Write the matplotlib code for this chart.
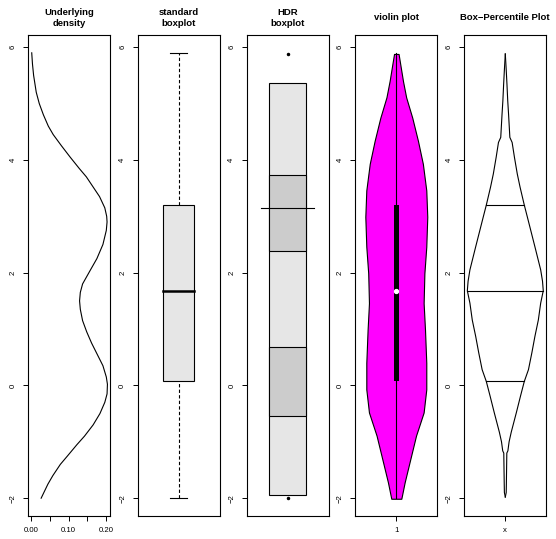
import numpy as np
import matplotlib.pyplot as plt
from matplotlib.patches import Rectangle

plt.rcParams['font.family'] = ['Liberation Sans', 'DejaVu Sans']

# ---- values ----
# underlying density (x = density, y = value)
dens_y = [5.90, 5.70, 5.50, 5.20, 5.00, 4.80, 4.60, 4.45, 4.25, 4.05, 3.85, 3.70,
          3.50, 3.35, 3.15, 3.00, 2.90, 2.75, 2.50, 2.25, 2.05, 1.80, 1.65, 1.50,
          1.35, 1.15, 0.95, 0.75, 0.55, 0.35, 0.15, 0.02, -0.15, -0.30, -0.50,
          -0.70, -0.90, -1.05, -1.25, -1.40, -1.60, -1.75, -2.00]
dens_x = [0.002, 0.004, 0.007, 0.014, 0.022, 0.033, 0.046, 0.059, 0.081, 0.104, 0.128, 0.147,
          0.167, 0.182, 0.196, 0.201, 0.202, 0.200, 0.191, 0.175, 0.158, 0.137, 0.131, 0.129,
          0.131, 0.137, 0.148, 0.161, 0.176, 0.191, 0.200, 0.203, 0.202, 0.196, 0.183,
          0.165, 0.142, 0.122, 0.097, 0.078, 0.058, 0.045, 0.027]

# summary statistics
x_min, q1, med, q3, x_max = -2.0, 0.07, 1.68, 3.20, 5.90

# HDR boxplot regions
hdr_outer = (-1.94, 5.36)
hdr_inner = [(-0.54, 0.68), (2.39, 3.74)]
hdr_mode = 3.15
hdr_outliers = [5.88, -1.99]

# violin outline half widths
vio_y = [-2.01, -1.72, -1.36, -0.89, -0.48, -0.07, 0.40, 0.99, 1.46, 1.99, 2.46,
         2.99, 3.46, 3.93, 4.34, 4.75, 5.11, 5.40, 5.69, 5.88]
vio_hw = [0.066, 0.11, 0.175, 0.26, 0.36, 0.395, 0.395, 0.378, 0.36, 0.37, 0.395,
          0.408, 0.395, 0.35, 0.285, 0.21, 0.13, 0.088, 0.053, 0.03]

# box-percentile outline half widths
bp_y = [-1.98, -1.90, -1.75, -1.48, -1.20, -1.16, -1.00, -0.83, -0.48, -0.19, q1,
        0.28, 0.58, 0.87, 1.16, 1.46, med, 1.85, 2.05, 2.46, 2.99, q3,
        3.52, 3.75, 4.05, 4.31, 4.40, 4.81, 5.05, 5.34, 5.60, 5.88]
bp_hw = [0.0, 0.012, 0.014, 0.017, 0.020, 0.034, 0.050, 0.078, 0.146, 0.20, 0.25,
         0.305, 0.35, 0.39, 0.435, 0.466, 0.5, 0.49, 0.466, 0.39, 0.29, 0.25,
         0.194, 0.158, 0.12, 0.09, 0.06, 0.043, 0.032, 0.022, 0.012, 0.0]

titles = ['Underlying\ndensity', 'standard\nboxplot', 'HDR\nboxplot',
          'violin plot', 'Box\u2212Percentile Plot']

# ---- figure layout (pixels) ----
W, H = 556, 539
fig = plt.figure(figsize=(W / 100, H / 100), dpi=100)
lefts = [28.3, 137.5, 246.5, 355.3, 464.3]
pw, top, bot = 82, 35, 516
ylim = (-2.316, 6.216)

axes = []
for i, l in enumerate(lefts):
    ax = fig.add_axes([l / W, (H - bot) / H, pw / W, (bot - top) / H])
    ax.set_ylim(ylim)
    ax.set_xlim(0.46, 1.54)
    ax.set_yticks([-2, 0, 2, 4, 6])
    ax.tick_params(direction='out', length=3.6, width=0.7, labelsize=5.6,
                   colors='black')
    ax.tick_params(axis='y', labelrotation=90, pad=4.5)
    ax.tick_params(axis='x', pad=4.5)
    for lbl in ax.get_yticklabels():
        lbl.set_va('center')
    for s in ax.spines.values():
        s.set_linewidth(0.8)
    ax.set_xticks([])
    fig.text((l + pw / 2) / W, 1 - 18 / H, titles[i], ha='center', va='center',
             fontsize=6.8, fontweight='bold', linespacing=1.25)
    axes.append(ax)

# 1: density
ax = axes[0]
ax.plot(dens_x, dens_y, color='black', lw=0.8)
ax.set_xlim(-0.0071, 0.2106)
ax.set_xticks([0, 0.05, 0.10, 0.15, 0.20])
ax.set_xticklabels(['0.00', '', '0.10', '', '0.20'])

# 2: standard boxplot
ax = axes[1]
ax.add_patch(Rectangle((0.8, q1), 0.4, q3 - q1, facecolor='#e6e6e6',
                       edgecolor='black', lw=0.8, zorder=2))
ax.plot([0.8, 1.2], [med, med], color='black', lw=1.8, zorder=3)
ax.plot([1, 1], [q3, x_max], color='black', lw=0.8, ls=(0, (3, 2)))
ax.plot([1, 1], [x_min, q1], color='black', lw=0.8, ls=(0, (3, 2)))
ax.plot([0.89, 1.11], [x_max, x_max], color='black', lw=0.8)
ax.plot([0.89, 1.11], [x_min, x_min], color='black', lw=0.8)

# 3: HDR boxplot
ax = axes[2]
ax.add_patch(Rectangle((0.75, hdr_outer[0]), 0.5, hdr_outer[1] - hdr_outer[0],
                       facecolor='#e6e6e6', edgecolor='black', lw=0.8))
for lo, hi in hdr_inner:
    ax.add_patch(Rectangle((0.75, lo), 0.5, hi - lo, facecolor='#cccccc',
                           edgecolor='black', lw=0.8))
ax.plot([0.65, 1.35], [hdr_mode, hdr_mode], color='black', lw=0.8)
ax.plot([1] * len(hdr_outliers), hdr_outliers, 'o', color='black', ms=1.5)

# 4: violin plot
ax = axes[3]
vy = np.array(vio_y)
vw = np.array(vio_hw)
ax.fill_betweenx(vy, 1 - vw, 1 + vw, facecolor='#ff00ff', edgecolor='black', lw=0.8)
ax.plot([1, 1], [x_min, x_max], color='black', lw=0.8)
ax.add_patch(Rectangle((0.967, q1), 0.066, q3 - q1, facecolor='black', edgecolor='none'))
ax.plot(1, med, 'o', color='white', ms=2.8)
ax.set_xticks([1])
ax.set_xticklabels(['1'])

# 5: box-percentile plot
ax = axes[4]
by = np.array(bp_y)
bw = np.array(bp_hw)
ax.plot(1 - bw, by, color='black', lw=0.8)
ax.plot(1 + bw, by, color='black', lw=0.8)
for q, w in [(q1, 0.25), (med, 0.5), (q3, 0.25)]:
    ax.plot([1 - w, 1 + w], [q, q], color='black', lw=0.8)
ax.set_xticks([1])
ax.set_xticklabels(['x'])

fig.savefig('out.png', dpi=100)
